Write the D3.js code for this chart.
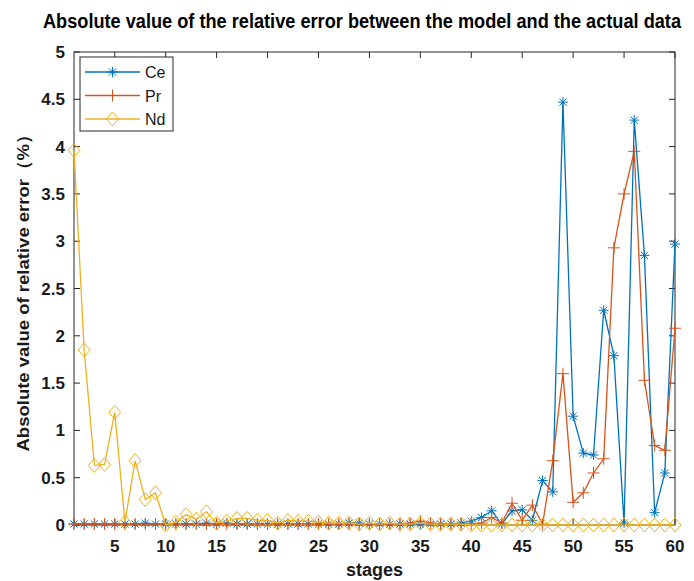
<!DOCTYPE html>
<html>
<head>
<meta charset="utf-8">
<script src="https://cdn.jsdelivr.net/npm/d3@7"></script>
<style>
  body { margin: 0; background: #fff; }
  svg { display: block; font-family: "Liberation Sans", Arial, sans-serif; }
</style>
</head>
<body>
<div id="chart"></div>
<script>
// stages 1..60
const stages = d3.range(1, 61);

const ceValues = [
  0.01, 0.01, 0.01, 0.01, 0.01, 0.01, 0.01, 0.02, 0.01, 0.01,
  0.01, 0.01, 0.01, 0.02, 0.01, 0.02, 0.01, 0.01, 0.01, 0.01,
  0.01, 0.01, 0.01, 0.01, 0.01, 0.01, 0.01, 0.02, 0.02, 0.01,
  0.01, 0.01, 0.01, 0.01, 0.01, 0.01, 0.01, 0.01, 0.02, 0.04,
  0.08, 0.15, 0.01, 0.15, 0.16, 0.05, 0.47, 0.35, 4.47, 1.15,
  0.76, 0.74, 2.27, 1.79, 0.02, 4.28, 2.85, 0.13, 0.55, 2.97
];

const prValues = [
  0.01, 0.01, 0.01, 0.01, 0.01, 0.01, 0.01, 0.01, 0.01, 0.01,
  0.01, 0.01, 0.01, 0.01, 0.01, 0.01, 0.01, 0.01, 0.01, 0.01,
  0.01, 0.01, 0.01, 0.01, 0.01, 0.01, 0.01, 0.01, 0.01, 0.01,
  0.01, 0.01, 0.01, 0.02, 0.04, 0.02, 0.01, 0.01, 0.01, 0.01,
  0.02, 0.08, 0.02, 0.23, 0.05, 0.21, 0.01, 0.68, 1.60, 0.24,
  0.34, 0.55, 0.70, 2.93, 3.50, 3.95, 1.53, 0.84, 0.79, 2.08
];

const ndValues = [
  3.96, 1.85, 0.63, 0.64, 1.19, 0.03, 0.68, 0.27, 0.34, 0.00,
  0.03, 0.11, 0.06, 0.14, 0.02, 0.04, 0.07, 0.07, 0.05, 0.05,
  0.02, 0.05, 0.04, 0.04, 0.03, 0.02, 0.02, 0.02, 0.01, 0.02,
  0.01, 0.02, 0.01, 0.01, 0.02, 0.01, 0.01, 0.01, 0.01, 0.00,
  0.00, 0.00, 0.00, 0.00, 0.00, 0.00, 0.00, 0.00, 0.00, 0.00,
  0.00, 0.00, 0.00, 0.00, 0.00, 0.00, 0.00, 0.00, 0.00, 0.00
];

const seriesNames = ['Ce', 'Pr', 'Nd'];
const xTicks = [5, 10, 15, 20, 25, 30, 35, 40, 45, 50, 55, 60];
const yTicks = [0, 0.5, 1, 1.5, 2, 2.5, 3, 3.5, 4, 4.5, 5];

const titleText = 'Absolute value of the relative error between the model and the actual data';
const xLabelText = 'stages';
const yLabelText = 'Absolute value of relative error（%）';

const colors = { Ce: '#0072BD', Pr: '#D95319', Nd: '#EDB120' };
const markers = { Ce: 'star', Pr: 'plus', Nd: 'diamond' };

const width = 694, height = 581;
const plot = { left: 74, right: 675, top: 52, bottom: 525 };
const axisColor = '#262626';

const svg = d3.select('#chart')
  .append('svg')
  .attr('width', width)
  .attr('height', height);

const xscale = d3.scaleLinear().domain([1, 60]).range([plot.left, plot.right]);
const yscale = d3.scaleLinear().domain([0, 5]).range([plot.bottom, plot.top]);

// marker path builders
function markerPath(type) {
  if (type === 'star') {
    const r = 5, d = 3.6;
    return `M${-r},0H${r}M0,${-r}V${r}M${-d},${-d}L${d},${d}M${-d},${d}L${d},${-d}`;
  }
  if (type === 'plus') {
    const r = 6;
    return `M${-r},0H${r}M0,${-r}V${r}`;
  }
  // diamond
  return 'M0,-7L6,0L0,7L-6,0Z';
}

// ticks (inward, on all four sides)
const tickLen = 6;
const axes = svg.append('g').attr('stroke', axisColor).attr('stroke-width', 1);

axes.selectAll('.xb').data(xTicks).enter().append('line')
  .attr('x1', d => xscale(d)).attr('x2', d => xscale(d))
  .attr('y1', plot.bottom).attr('y2', plot.bottom - tickLen);
axes.selectAll('.xt').data(xTicks).enter().append('line')
  .attr('x1', d => xscale(d)).attr('x2', d => xscale(d))
  .attr('y1', plot.top).attr('y2', plot.top + tickLen);
axes.selectAll('.yl').data(yTicks).enter().append('line')
  .attr('x1', plot.left).attr('x2', plot.left + tickLen)
  .attr('y1', d => yscale(d)).attr('y2', d => yscale(d));
axes.selectAll('.yr').data(yTicks).enter().append('line')
  .attr('x1', plot.right).attr('x2', plot.right - tickLen)
  .attr('y1', d => yscale(d)).attr('y2', d => yscale(d));

axes.append('rect')
  .attr('x', plot.left).attr('y', plot.top)
  .attr('width', plot.right - plot.left).attr('height', plot.bottom - plot.top)
  .attr('fill', 'none');

// tick labels
svg.append('g').selectAll('text').data(xTicks).enter().append('text')
  .attr('x', d => xscale(d))
  .attr('y', plot.bottom + 27)
  .attr('text-anchor', 'middle')
  .attr('font-size', 17).attr('font-weight', 'bold')
  .attr('fill', '#1a1a1a')
  .text(d => d);

svg.append('g').selectAll('text').data(yTicks).enter().append('text')
  .attr('x', plot.left - 9)
  .attr('y', d => yscale(d) + 6)
  .attr('text-anchor', 'end')
  .attr('font-size', 17).attr('font-weight', 'bold')
  .attr('fill', '#1a1a1a')
  .text(d => d);

// series
const series = [
  { name: 'Ce', values: ceValues },
  { name: 'Pr', values: prValues },
  { name: 'Nd', values: ndValues }
];

const line = d3.line()
  .x((d, i) => xscale(stages[i]))
  .y(d => yscale(d));

const groups = svg.selectAll('.series')
  .data(series)
  .enter()
  .append('g')
  .attr('class', 'series');

groups.append('path')
  .attr('d', d => line(d.values))
  .attr('fill', 'none')
  .attr('stroke', d => colors[d.name])
  .attr('stroke-width', 1.3);

groups.each(function (s) {
  d3.select(this).selectAll('.mk')
    .data(s.values)
    .enter()
    .append('path')
    .attr('transform', (d, i) => `translate(${xscale(stages[i])},${yscale(d)})`)
    .attr('d', markerPath(markers[s.name]))
    .attr('fill', 'none')
    .attr('stroke', colors[s.name])
    .attr('stroke-width', 1);
});

// legend
const legend = svg.append('g');
legend.append('rect')
  .attr('x', 80).attr('y', 57)
  .attr('width', 93).attr('height', 74)
  .attr('fill', '#fff')
  .attr('stroke', axisColor)
  .attr('stroke-width', 1);

const legendRows = legend.selectAll('.row')
  .data(seriesNames)
  .enter()
  .append('g')
  .attr('transform', (d, i) => `translate(0, ${72 + i * 23.5})`);

legendRows.append('line')
  .attr('x1', 85).attr('x2', 140)
  .attr('y1', 0).attr('y2', 0)
  .attr('stroke', d => colors[d])
  .attr('stroke-width', 1.3);
legendRows.append('path')
  .attr('transform', 'translate(112.5,0)')
  .attr('d', d => markerPath(markers[d]))
  .attr('fill', 'none')
  .attr('stroke', d => colors[d]);
legendRows.append('text')
  .attr('x', 145).attr('y', 6)
  .attr('font-size', 16)
  .attr('fill', '#1a1a1a')
  .text(d => d);

// titles
svg.append('text')
  .attr('x', 43)
  .attr('y', 28)
  .attr('font-size', 20).attr('font-weight', 'bold')
  .attr('textLength', 638).attr('lengthAdjust', 'spacingAndGlyphs')
  .text(titleText);

svg.append('text')
  .attr('x', (plot.left + plot.right) / 2)
  .attr('y', 576)
  .attr('text-anchor', 'middle')
  .attr('font-size', 18).attr('font-weight', 'bold')
  .attr('fill', '#1a1a1a')
  .text(xLabelText);

svg.append('g')
  .attr('transform', `translate(29, ${(plot.top + plot.bottom) / 2}) rotate(-90)`)
  .append('text')
  .attr('text-anchor', 'middle')
  .attr('font-size', 17).attr('font-weight', 'bold')
  .attr('textLength', 326).attr('lengthAdjust', 'spacingAndGlyphs')
  .attr('fill', '#1a1a1a')
  .text(yLabelText);
</script>
</body>
</html>
